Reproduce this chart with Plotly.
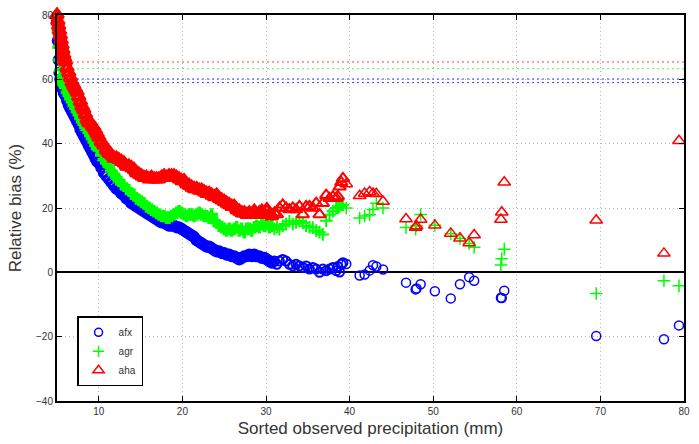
import plotly.graph_objects as go

# Sorted observed precipitation (mm) -- shared by all three series
precip = [5.0, 5.1, 5.2, 5.3, 5.4, 5.5, 5.6, 5.7, 5.8, 5.9, 6.0, 6.2, 6.4, 6.6, 6.8, 7.0, 7.2, 7.4, 7.6, 7.8,
          8.0, 8.2, 8.4, 8.6, 8.8, 9.0, 9.2, 9.4, 9.6, 9.8, 10.0, 10.3, 10.6, 10.9, 11.2, 11.5, 11.8, 12.1, 12.4, 12.7,
          13.0, 13.3, 13.6, 13.9, 14.2, 14.5, 14.8, 15.1, 15.4, 15.7, 16.0, 16.3, 16.6, 16.9, 17.2, 17.5, 17.8, 18.1, 18.4, 18.7,
          19.0, 19.3, 19.6, 19.9, 20.2, 20.5, 20.8, 21.1, 21.4, 21.7, 22.0, 22.3, 22.6, 22.9, 23.2, 23.5, 23.8, 24.1, 24.4, 24.7,
          25.0, 25.3, 25.6, 25.9, 26.2, 26.5, 26.8, 27.1, 27.4, 27.7, 28.0, 28.3, 28.6, 28.9, 29.2, 29.5, 29.8, 30.1, 30.4, 30.7,
          31.0, 31.3, 31.6, 32.0, 32.4, 32.8, 33.2, 33.6, 34.0, 34.4, 34.8, 35.2, 35.6, 36.0, 36.4, 36.8, 37.2, 37.6, 38.0, 38.4,
          38.6, 38.8, 39.0, 39.2,
          39.6, 41.2, 41.8, 42.4, 42.8, 43.2, 44.0, 46.75, 47.9, 48.0, 48.5, 50.2, 52.1, 53.2, 54.3, 54.9, 58.1, 58.2, 58.5,
          69.5, 77.6, 79.4]

afx = [78, 72, 66, 62, 60, 58.5, 57.5, 57, 56, 55.5, 55, 53.5, 52, 51, 50, 49, 48, 47, 46, 44.5,
       43.5, 42.5, 41.5, 40.5, 39.5, 38.5, 37.5, 36.5, 35.5, 34.5, 34, 32.5, 31, 30, 29, 28, 27, 26, 25.5, 24.5,
       24, 23, 22.5, 21.5, 21, 20.5, 20, 19.5, 19, 18.5, 18, 17.5, 17, 16.5, 16, 15.5, 15.5, 15, 14.5, 14.5,
       14.5, 14, 14, 13.5, 13, 12.5, 12, 11.5, 11, 10, 9.5, 9, 8.5, 8, 8, 7.5, 7, 6.5, 6.5, 6,
       6, 5.5, 5.5, 5, 5, 4.5, 4, 4.5, 5, 5, 5.5, 5, 5.5, 5, 5, 4.5, 4.5, 4, 3.5, 3,
       3.5, 2.5, 3.5, 4, 3.5, 2.5, 2, 2.5, 2, 1.5, 2, 1, 1.5, 1, 0, 1, 0.5, 1, 1.5, 0.5,
       1.8, 0.1, 2.5, 3,
       2.6, -1.0, -0.7, 0.6, 2.2, 1.8, 0.9, -3.2, -5.3, -5.0, -3.7, -5.9, -8.1, -3.7, -1.5, -2.6, -7.9, -8.0, -5.7,
       -19.8, -20.8, -16.5]

agr = [79, 75, 70, 66, 63, 61, 60, 59, 58.5, 58, 57.5, 56, 55, 54, 53, 52, 51, 50, 49, 48,
       47, 46, 45, 44.5, 43.5, 42.5, 41.5, 40.5, 39.5, 38.5, 38, 36.5, 35, 34, 33, 31.5, 30.5, 29.5, 28.5, 27.5,
       27, 26, 25.5, 24.5, 24, 23, 22.5, 22, 21.5, 20.5, 20, 19.5, 19, 18.5, 18, 17.5, 17.5, 17, 17, 17.5,
       18, 18.5, 19, 18.5, 18, 17.5, 18, 18, 17.5, 18, 18.5, 18, 17.5, 17.5, 17, 18, 16, 15.5, 14.5, 14,
       13.5, 13, 13.5, 13, 13.5, 14, 13, 13.5, 12.5, 13.5, 13.5, 13, 14, 14.5, 14, 15, 14.5, 15, 14, 14.5,
       13.5, 14, 13.4, 14.5, 15, 15.9, 15, 15.5, 16, 15.4, 14.5, 14, 13.9, 13, 12.5, 11.8, 16, 17.9, 19, 20,
       20, 20.5, 21, 21,
       20.0, 16.9, 17.5, 17.9, 19.5, 21.5, 20.0, 13.9, 13.4, 14.5, 18.0, 14.6, 12.0, 10.5, 9.0, 7.8, 2.3, 4.2, 7.2,
       -6.6, -2.6, -4.2]

aha = [80, 78, 76.5, 75, 73.5, 72, 70.5, 69, 67.5, 66.5, 65.5, 63.5, 62, 60.5, 59, 58, 57, 56, 54.5, 53,
       51.5, 50.5, 49, 47.5, 46.5, 46.5, 45.5, 45, 44, 43, 42, 40.5, 39.5, 38, 37, 36.5, 35.5, 35.5, 35, 34.5,
       34, 33, 33, 32.5, 32, 31, 30.5, 30, 29.5, 29.5, 29, 29.5, 29, 29, 29, 29.5, 30, 29.5, 30, 30,
       30, 29.5, 29, 28.5, 28.5, 27.5, 27, 26.5, 26, 26, 25.5, 25.5, 25, 24.5, 24.5, 24, 23.5, 24, 23, 22.5,
       22, 21.5, 21, 20.5, 20.5, 19.5, 19, 18.5, 18.5, 18, 18.5, 18, 19, 18, 18.5, 19, 18, 19.5, 18, 17.5,
       18.5, 18, 20, 21, 20, 19.5, 20, 19.5, 20.5, 18, 20.5, 20.5, 20, 21.5, 18, 21.5, 24, 23, 23.5, 23,
       23.6, 26.6, 28, 29.2,
       27.5, 23.8, 24.5, 25.0, 24.5, 24.4, 22.0, 16.6, 13.9, 14.4, 16.4, 14.6, 12.1, 10.6, 9.1, 11.6, 16.4, 18.7, 28.0,
       16.2, 5.9, 40.9]

# Horizontal reference levels (dotted)
ref_x = [5, 80]
ref_aha = [65.4, 65.4]
ref_agr = [63.3, 63.3]
ref_afx_a = [60.1, 60.1]
ref_afx_b = [59.0, 59.0]

xticks = [10, 20, 30, 40, 50, 60, 70, 80]
yticks = [-40, -20, 0, 20, 40, 60, 80]

BLUE, GREEN, RED = "#0000ff", "#00ff00", "#ff0000"
FONT = "Liberation Sans, Arial"

# heavier strokes where the points pile up into a dense band
def stroke(thick, thin):
    return [thick if p < 31 else (2.0 if p < 39.5 else thin) for p in precip]

fig = go.Figure()
for yv, col in [(ref_aha, RED), (ref_agr, GREEN), (ref_afx_a, BLUE), (ref_afx_b, BLUE)]:
    fig.add_trace(go.Scatter(x=ref_x, y=yv, mode="lines", showlegend=False, opacity=0.75,
                             line=dict(color=col, width=1, dash="2px,3px"), hoverinfo="skip"))

series = [("afx", afx, "circle-open", 9, BLUE, 3.2),
          ("agr", agr, "cross-thin-open", 9, GREEN, 3.5),
          ("aha", aha, "triangle-up-open", 11, RED, 3.6)]

for name, yv, sym, sz, col, thick in series:
    fig.add_trace(go.Scatter(x=precip, y=yv, mode="markers", name=name, showlegend=False,
                             cliponaxis=False,
                             marker=dict(symbol=sym, size=sz, color=col,
                                         line=dict(width=stroke(thick, 1.5), color=col))))

# legend entries (thin strokes, like single markers)
for name, yv, sym, sz, col, thick in series:
    fig.add_trace(go.Scatter(x=[None], y=[None], mode="markers", name=name,
                             marker=dict(symbol=sym, size=sz - 1, color=col,
                                         line=dict(width=1.5, color=col))))

axis_common = dict(showline=True, linecolor="black", linewidth=2, mirror="ticks",
                   ticks="inside", ticklen=5, tickwidth=1, tickcolor="black",
                   showgrid=True, gridcolor="#b5b5b5", gridwidth=1, griddash="1px,3px",
                   tickfont=dict(family=FONT, size=10, color="#333333"))

fig.update_xaxes(range=[5, 80], tickvals=xticks, zeroline=False,
                 title=dict(text="Sorted observed precipitation (mm)", standoff=6,
                            font=dict(family=FONT, size=17, color="#333333")),
                 **axis_common)
fig.update_yaxes(range=[-40, 80], tickvals=yticks, zeroline=True, zerolinecolor="black", zerolinewidth=2,
                 title=dict(text="Relative bias (%)", standoff=10,
                            font=dict(family=FONT, size=17, color="#333333")),
                 **axis_common)

fig.update_layout(
    width=699, height=444,
    margin=dict(l=57, r=11, t=9, b=43),
    paper_bgcolor="white", plot_bgcolor="white",
    legend=dict(x=0.032, y=0.038, xanchor="left", yanchor="bottom",
                bgcolor="white", bordercolor="black", borderwidth=1.5,
                font=dict(family=FONT, size=10, color="#333333"),
                tracegroupgap=0, itemwidth=30),
)

fig.write_html("out.html")
